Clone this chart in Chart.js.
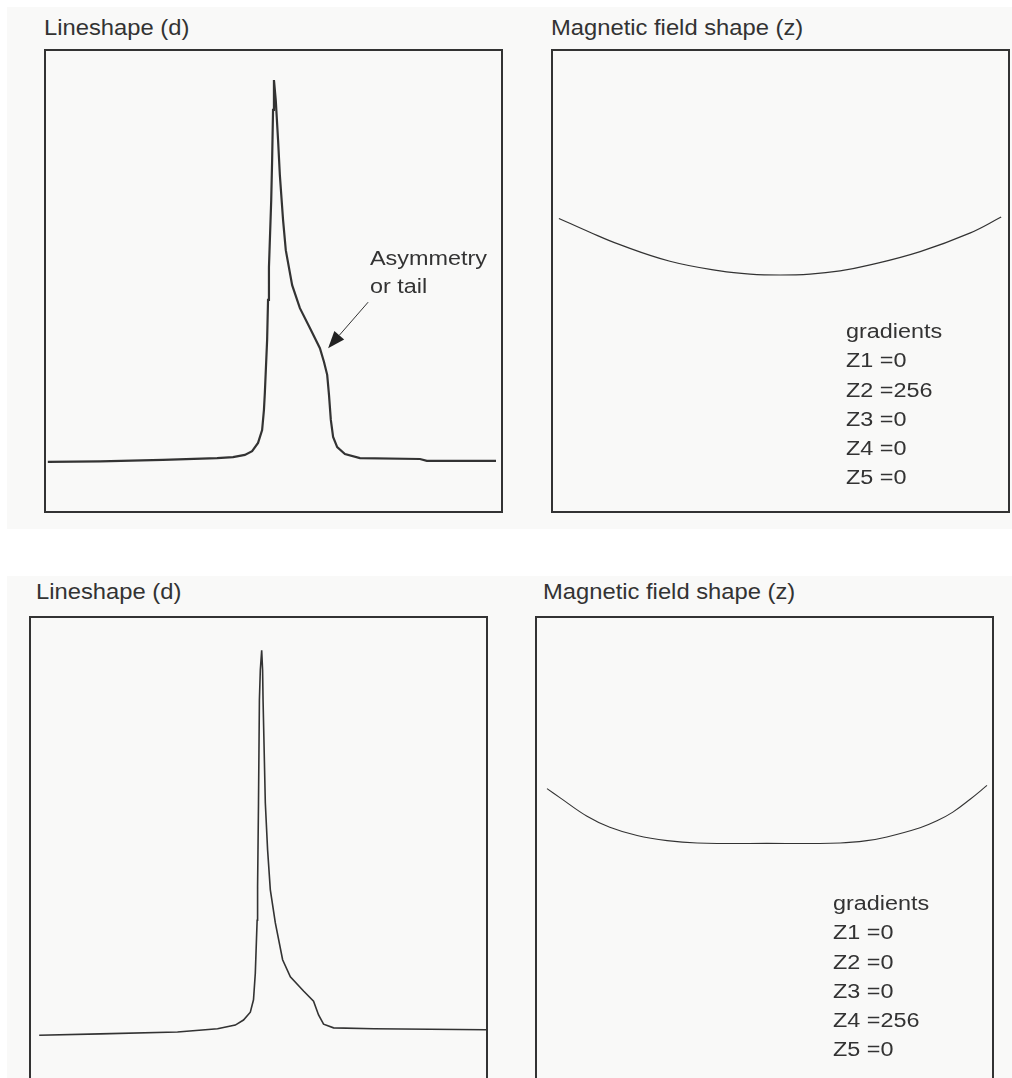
<!DOCTYPE html>
<html>
<head>
<meta charset="utf-8">
<script src="https://cdn.jsdelivr.net/npm/chart.js@4.4.0/dist/chart.umd.min.js"></script>
<style>
    body { margin: 0; background: #ffffff; width: 1012px; height: 1078px; overflow: hidden; position: relative; font-family: "Liberation Sans", Arial, sans-serif; color: #333333; }
    .panel { position: absolute; left: 7px; width: 1005px; background: #f9f9f8; }
    .box { position: absolute; border: 2px solid #333333; box-sizing: border-box; width: 459px; height: 464px; }
    .box canvas { display: block; }
    .title { position: absolute; font-size: 22px; line-height: 22px; white-space: nowrap; transform: scaleX(1.08); transform-origin: left top; }
    .note { position: absolute; font-size: 20px; white-space: nowrap; transform: scaleX(1.17); transform-origin: left top; }
</style>
</head>
<body>
<div class="panel" style="top:7px; height:522px;"></div>
<div class="panel" style="top:576px; height:510px;"></div>

<div class="title" style="left:44px; top:17px;">Lineshape (d)</div>
<div class="title" style="left:551px; top:17px;">Magnetic field shape (z)</div>
<div class="title" style="left:36px; top:581px;">Lineshape (d)</div>
<div class="title" style="left:543px; top:581px;">Magnetic field shape (z)</div>

<div class="box" style="left:44px; top:49px;"><canvas id="line-top" width="455" height="460"></canvas></div>
<div class="box" style="left:551px; top:49px;"><canvas id="field-top" width="455" height="460"></canvas></div>
<div class="box" style="left:29px; top:616px;"><canvas id="line-bottom" width="455" height="460"></canvas></div>
<div class="box" style="left:535px; top:616px;"><canvas id="field-bottom" width="455" height="460"></canvas></div>

<div class="note" style="left:370px; top:245px; line-height:27.6px;">Asymmetry<br>or tail</div>
<div class="note" id="grad-top" style="left:846px; top:317px; line-height:29.3px;"></div>
<div class="note" id="grad-bottom" style="left:833px; top:889px; line-height:29.3px;"></div>

<script>
/*
*   Values, x = relative position across the box (0-100),
*   y = relative height (0-100)
*/
var lineTopX = [0.4, 11.9, 25.7, 37.6, 41.1, 43.7, 45.3, 46.6, 47.5, 47.9, 48.1, 48.6, 48.8, 49.0, 49.5, 49.7, 49.9, 50.1,
    50.5, 51.0, 51.4, 52.1, 52.7, 54.1, 55.8, 58.0, 60.2, 61.1, 61.8, 62.2, 62.6, 63.1, 64.0, 65.7, 69.0, 82.2, 83.7, 98.9];
var lineTopY = [10.7, 10.8, 11.1, 11.5, 11.7, 12.2, 13.0, 14.8, 17.6, 22.0, 25.7, 37.2, 45.9, 53.0, 67.6, 76.3, 87.2, 93.7,
    89.3, 80.7, 73.0, 63.3, 56.7, 49.1, 44.1, 39.8, 35.4, 32.4, 29.6, 25.2, 19.8, 16.1, 13.9, 12.4, 11.5, 11.3, 10.9, 10.9];

var lineBottomX = [1.8, 15.2, 32.2, 41.0, 44.9, 46.7, 48.2, 48.9, 49.3, 49.7, 49.8, 50.0, 50.2, 50.4, 50.7,
    50.9, 51.0, 51.5, 52.0, 52.6, 53.7, 55.3, 57.0, 59.9, 62.1, 63.2, 64.3, 66.5, 75.3, 100.0];
var lineBottomY = [9.3, 9.6, 10.0, 10.7, 11.5, 12.6, 14.3, 17.0, 22.8, 34.3, 41.5, 59.8, 82.2, 88.7, 93.0,
    88.7, 82.2, 59.8, 49.6, 40.9, 33.7, 25.7, 22.0, 18.9, 16.7, 13.7, 11.7, 10.9, 10.7, 10.5];

var fieldTopX = [1.3, 8.1, 14.7, 25.7, 36.7, 43.3, 49.9, 56.5, 63.1, 69.7, 80.7, 91.6, 98.5];
var fieldTopY = [63.6, 60.6, 57.9, 54.3, 52.2, 51.5, 51.3, 51.5, 52.2, 53.5, 56.4, 60.4, 63.9];

var fieldBottomX = [2.2, 5.1, 11.0, 16.0, 22.0, 28.6, 35.2, 50.5, 66.6, 72.5, 76.9, 84.2, 87.9, 91.4, 95.2, 98.9];
var fieldBottomY = [62.9, 60.9, 56.9, 54.5, 52.7, 51.6, 51.1, 51.0, 51.1, 51.6, 52.4, 54.4, 55.9, 57.8, 60.6, 63.6];

var gradientNames = ['Z1', 'Z2', 'Z3', 'Z4', 'Z5'];
var gradientsTop = [0, 256, 0, 0, 0];
var gradientsBottom = [0, 0, 0, 256, 0];

// arrow pointing at the tail, in the same units as the top lineshape
var arrowFrom = {x: 70.8, y: 45.4};
var arrowTo = {x: 62.0, y: 35.4};

function toPoints(xs, ys) {
    var pts = [];
    for (var i = 0; i < xs.length; i++) {
        pts.push({x: xs[i], y: ys[i]});
    }
    return pts;
}

function gradientText(values) {
    var html = 'gradients';
    for (var i = 0; i < values.length; i++) {
        html += '<br>' + gradientNames[i] + ' =' + values[i];
    }
    return html;
}
document.getElementById('grad-top').innerHTML = gradientText(gradientsTop);
document.getElementById('grad-bottom').innerHTML = gradientText(gradientsBottom);

var arrowPlugin = {
    id: 'tailArrow',
    afterDatasetsDraw: function(chart) {
        var ctx = chart.ctx;
        var sx = chart.scales.x, sy = chart.scales.y;
        var x0 = sx.getPixelForValue(arrowFrom.x), y0 = sy.getPixelForValue(arrowFrom.y);
        var x1 = sx.getPixelForValue(arrowTo.x), y1 = sy.getPixelForValue(arrowTo.y);
        var ang = Math.atan2(y1 - y0, x1 - x0);
        var len = 17, half = 6.5;
        var bx = x1 - len * Math.cos(ang), by = y1 - len * Math.sin(ang);
        ctx.save();
        ctx.strokeStyle = '#333333';
        ctx.fillStyle = '#222222';
        ctx.lineWidth = 1;
        ctx.beginPath();
        ctx.moveTo(x0, y0);
        ctx.lineTo(bx, by);
        ctx.stroke();
        ctx.beginPath();
        ctx.moveTo(x1, y1);
        ctx.lineTo(bx + half * Math.sin(ang), by - half * Math.cos(ang));
        ctx.lineTo(bx - half * Math.sin(ang), by + half * Math.cos(ang));
        ctx.closePath();
        ctx.fill();
        ctx.restore();
    }
};

function makeChart(id, xs, ys, width, tension, plugins) {
    var ctx = document.getElementById(id).getContext('2d');
    return new Chart(ctx, {
        type: 'scatter',
        data: {
            datasets: [{
                data: toPoints(xs, ys),
                showLine: true,
                borderColor: '#333333',
                borderWidth: width,
                pointRadius: 0,
                tension: tension,
                fill: false
            }]
        },
        options: {
            responsive: false,
            animation: false,
            layout: { padding: 0 },
            plugins: {
                legend: { display: false },
                tooltip: { enabled: false }
            },
            scales: {
                x: { type: 'linear', min: 0, max: 100, display: false },
                y: { type: 'linear', min: 0, max: 100, display: false }
            }
        },
        plugins: plugins || []
    });
}

makeChart('line-top', lineTopX, lineTopY, 2.2, 0, [arrowPlugin]);
makeChart('line-bottom', lineBottomX, lineBottomY, 1.6, 0);
makeChart('field-top', fieldTopX, fieldTopY, 1.2, 0.4);
makeChart('field-bottom', fieldBottomX, fieldBottomY, 1.1, 0.4);
</script>
</body>
</html>
